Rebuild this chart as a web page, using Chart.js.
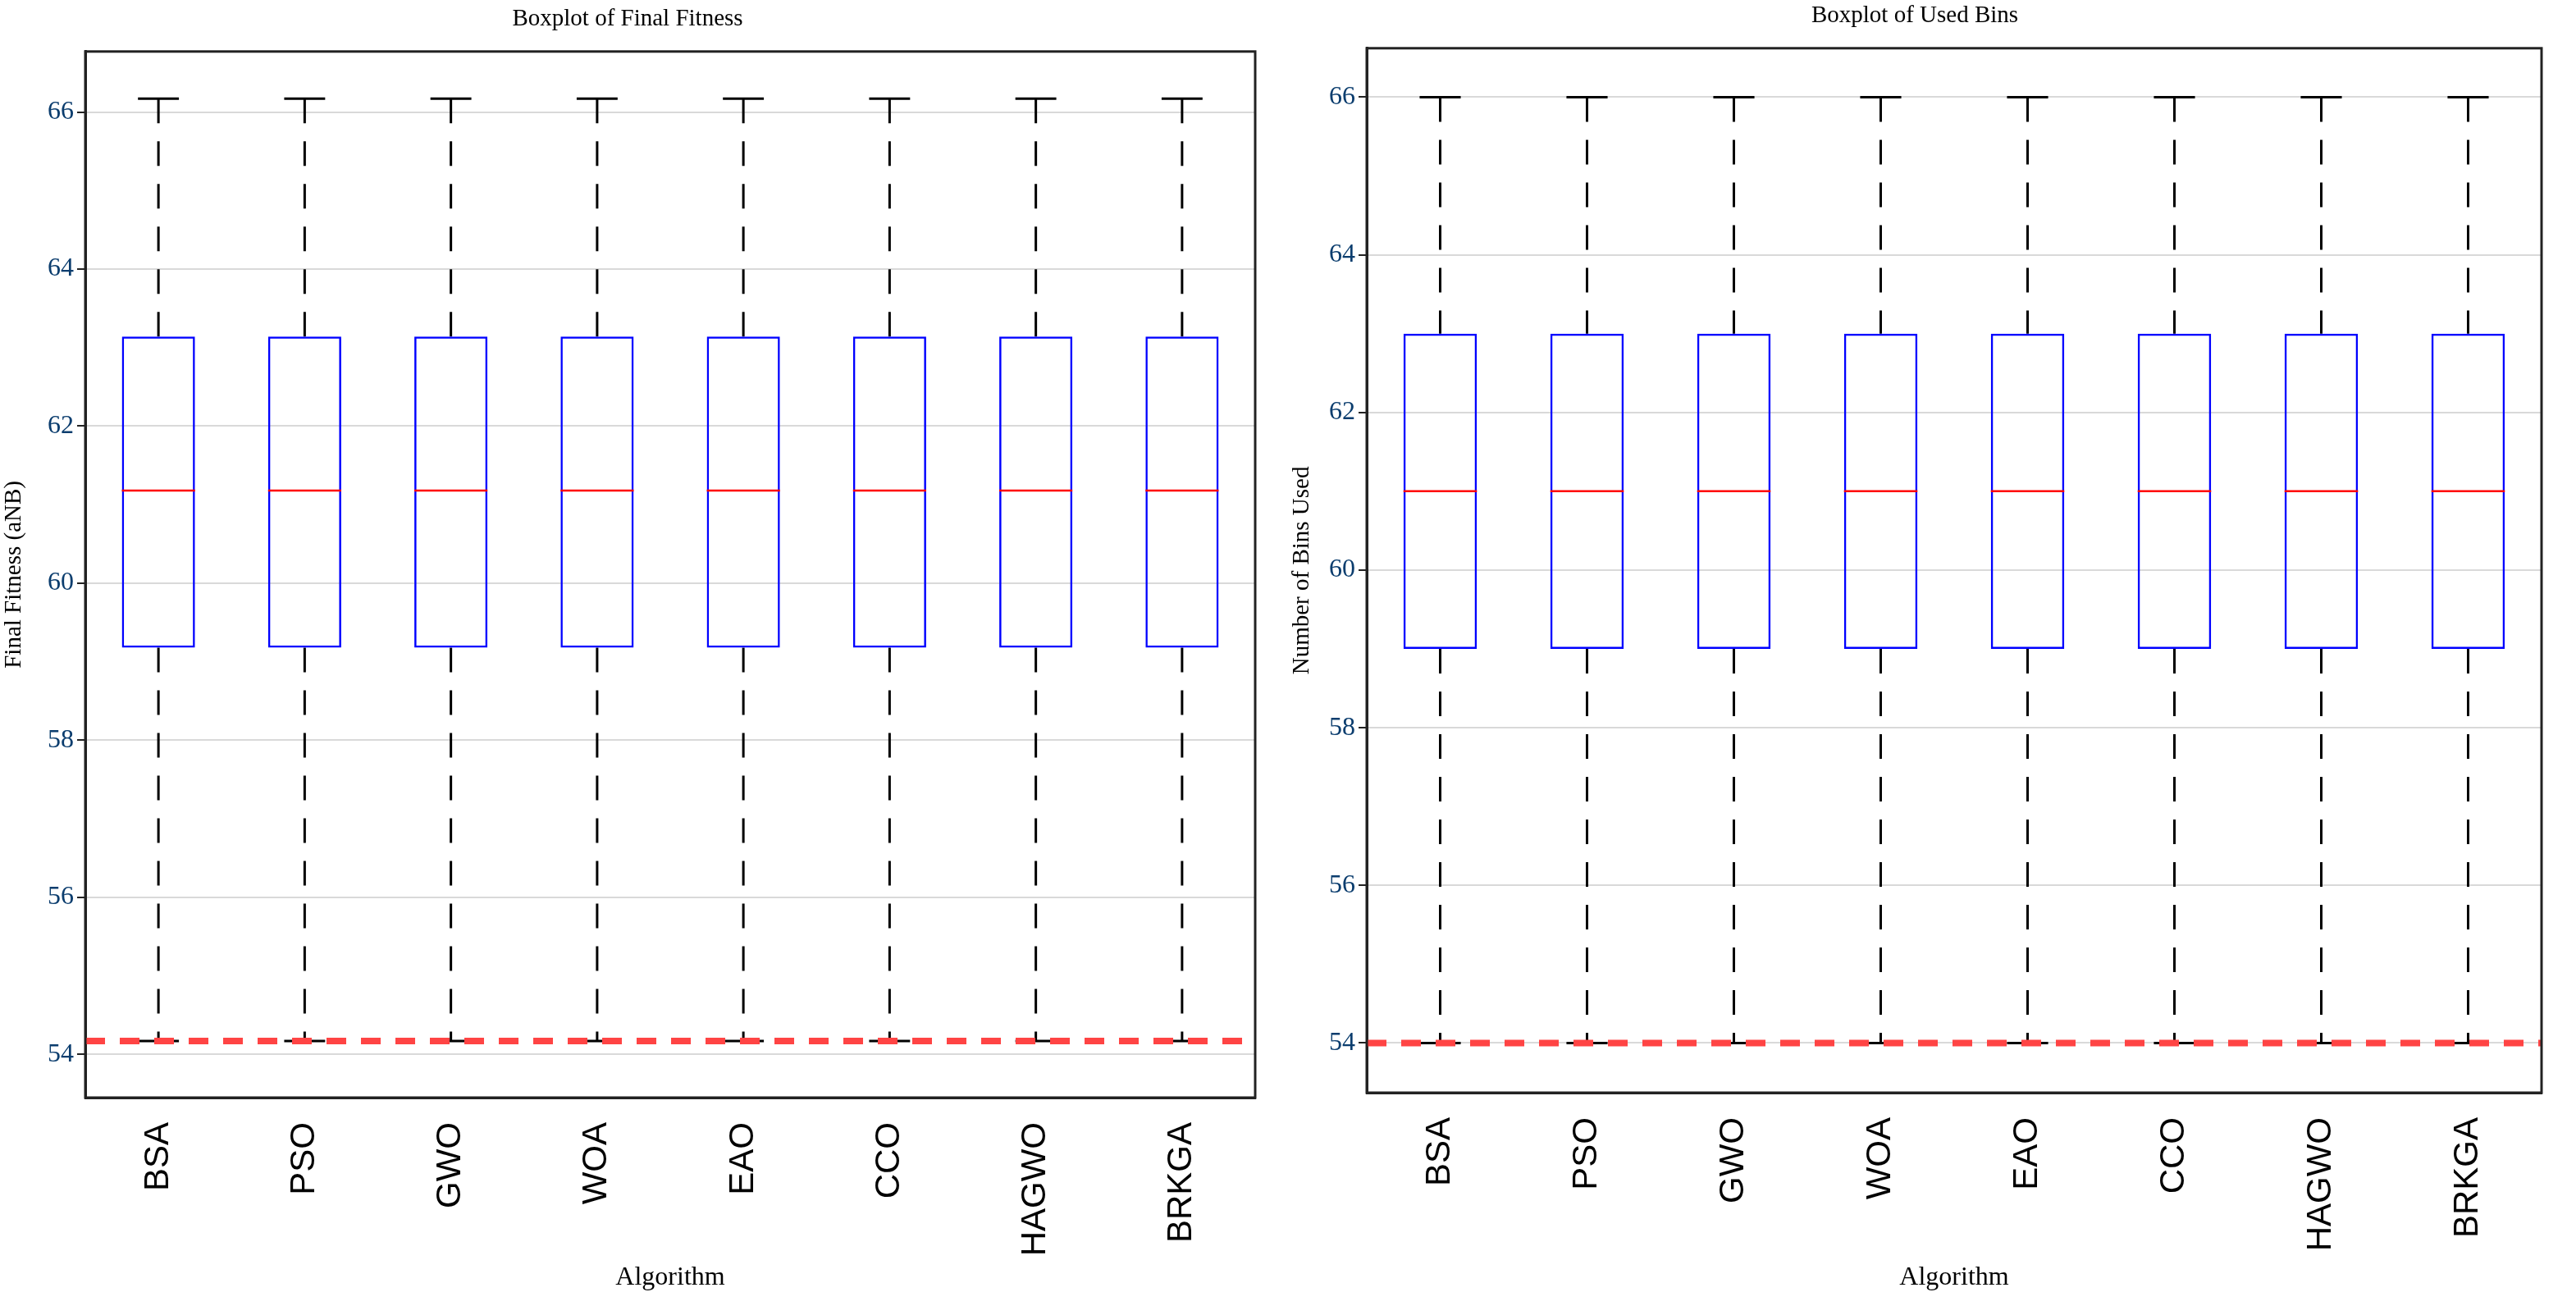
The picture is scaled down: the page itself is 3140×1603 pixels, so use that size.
<!DOCTYPE html>
<html>
<head>
<meta charset="utf-8">
<script src="https://cdn.jsdelivr.net/npm/chart.js@4"></script>
<style>
  body { margin: 0; background: #fff; }
  .pane { position: absolute; top: 0; width: 1570px; height: 1603px; }
</style>
</head>
<body>
<div class="pane" style="left:0"><canvas id="fitnessChart"></canvas></div>
<div class="pane" style="left:1570px"><canvas id="binsChart"></canvas></div>
<script>
// data
const algorithms = ['BSA', 'PSO', 'GWO', 'WOA', 'EAO', 'CCO', 'HAGWO', 'BRKGA'];

const fitnessMin = [54.17, 54.17, 54.17, 54.17, 54.17, 54.17, 54.17, 54.17];
const fitnessQ1 = [59.18, 59.18, 59.18, 59.18, 59.18, 59.18, 59.18, 59.18];
const fitnessMedian = [61.18, 61.18, 61.18, 61.18, 61.18, 61.18, 61.18, 61.18];
const fitnessQ3 = [63.14, 63.14, 63.14, 63.14, 63.14, 63.14, 63.14, 63.14];
const fitnessMax = [66.17, 66.17, 66.17, 66.17, 66.17, 66.17, 66.17, 66.17];
const fitnessBound = 54.17;
const fitnessTicks = [54, 56, 58, 60, 62, 64, 66];

const binsMin = [54, 54, 54, 54, 54, 54, 54, 54];
const binsQ1 = [59, 59, 59, 59, 59, 59, 59, 59];
const binsMedian = [61, 61, 61, 61, 61, 61, 61, 61];
const binsQ3 = [63, 63, 63, 63, 63, 63, 63, 63];
const binsMax = [66, 66, 66, 66, 66, 66, 66, 66];
const binsBound = 54;
const binsTicks = [54, 56, 58, 60, 62, 64, 66];

const serif = "'Liberation Serif', 'DejaVu Serif', serif";

// whiskers, medians and the lower-bound line drawn through the chart's scales
const boxExtras = {
    id: 'boxExtras',
    beforeDatasetsDraw(chart, args, opts) {
        const { ctx, scales: { x, y } } = chart;
        const catW = x.width / algorithms.length;
        ctx.save();
        ctx.strokeStyle = '#000';
        ctx.lineWidth = 3;
        algorithms.forEach((a, i) => {
            const cx = x.getPixelForValue(i);
            ctx.setLineDash([30, 22]);
            ctx.beginPath();
            ctx.moveTo(cx, y.getPixelForValue(opts.max[i]));
            ctx.lineTo(cx, y.getPixelForValue(opts.q3[i]));
            ctx.moveTo(cx, y.getPixelForValue(opts.q1[i]));
            ctx.lineTo(cx, y.getPixelForValue(opts.min[i]));
            ctx.stroke();
            ctx.setLineDash([]);
            ctx.beginPath();
            const cap = catW * 0.14;
            ctx.moveTo(cx - cap, y.getPixelForValue(opts.max[i]));
            ctx.lineTo(cx + cap, y.getPixelForValue(opts.max[i]));
            ctx.moveTo(cx - cap, y.getPixelForValue(opts.min[i]));
            ctx.lineTo(cx + cap, y.getPixelForValue(opts.min[i]));
            ctx.stroke();
        });
        ctx.restore();
    },
    afterDatasetsDraw(chart, args, opts) {
        const { ctx, chartArea, scales: { x, y } } = chart;
        const catW = x.width / algorithms.length;
        ctx.save();
        ctx.strokeStyle = '#ff0000';
        ctx.lineWidth = 2.5;
        algorithms.forEach((a, i) => {
            const cx = x.getPixelForValue(i);
            const py = y.getPixelForValue(opts.median[i]);
            ctx.beginPath();
            ctx.moveTo(cx - catW * 0.25, py);
            ctx.lineTo(cx + catW * 0.25, py);
            ctx.stroke();
        });
        const by = y.getPixelForValue(opts.bound);
        ctx.strokeStyle = '#ff4444';
        ctx.lineWidth = 8;
        ctx.setLineDash([24, 18]);
        ctx.beginPath();
        ctx.moveTo(chartArea.left, by);
        ctx.lineTo(chartArea.right, by);
        ctx.stroke();
        ctx.restore();
    }
};

function renderBoxplot(canvasID, cfg) {
    const el = document.getElementById(canvasID);
    el.width = 1570;
    el.height = 1603;
    new Chart(el.getContext('2d'), {
        type: 'bar',
        data: {
            labels: algorithms,
            datasets: [{
                data: cfg.q1.map((v, i) => [v, cfg.q3[i]]),
                backgroundColor: 'rgba(255,255,255,0)',
                borderColor: '#0000ff',
                borderWidth: 2.5,
                borderSkipped: false,
                categoryPercentage: 1,
                barPercentage: 0.5
            }]
        },
        options: {
            responsive: false,
            animation: false,
            layout: { padding: { left: cfg.padLeft, right: cfg.padRight, top: 0, bottom: 26 } },
            plugins: {
                legend: { display: false },
                tooltip: { enabled: false },
                title: {
                    display: true,
                    text: cfg.title,
                    color: '#000',
                    font: { family: serif, size: 29, weight: 'normal' },
                    padding: { top: cfg.titleTop, bottom: 22 }
                },
                boxExtras: cfg
            },
            scales: {
                x: {
                    grid: { display: false, drawTicks: false },
                    border: { color: '#222', width: 3 },
                    ticks: {
                        color: '#000',
                        minRotation: 90,
                        maxRotation: 90,
                        padding: 30,
                        font: { family: "'Liberation Sans', Arial, sans-serif", size: 42 }
                    },
                    title: {
                        display: true,
                        text: 'Algorithm',
                        color: '#000',
                        font: { family: serif, size: 32 },
                        padding: { top: 0, bottom: 0 }
                    },
                    afterFit(s) { s.height = cfg.xHeight; }
                },
                y: {
                    min: cfg.yMin,
                    max: cfg.yMax,
                    afterBuildTicks(s) { s.ticks = cfg.ticks.map(v => ({ value: v })); },
                    grid: { color: '#d9d9d9', lineWidth: 2, tickColor: '#222', tickLength: 10 },
                    border: { color: '#222', width: 3 },
                    ticks: {
                        color: '#0b3d6e',
                        padding: 4,
                        font: { family: serif, size: 32 }
                    },
                    title: {
                        display: true,
                        text: cfg.yTitle,
                        color: '#000',
                        font: { family: serif, size: 29 },
                        padding: { top: 0, bottom: 2 }
                    },
                    afterFit(s) { s.width = cfg.yWidth; }
                }
            }
        },
        plugins: [boxExtras, {
            id: 'frame',
            afterDraw(chart) {
                const { ctx, chartArea: a } = chart;
                ctx.save();
                ctx.strokeStyle = '#222';
                ctx.lineWidth = 3;
                ctx.strokeRect(a.left, a.top, a.right - a.left, a.bottom - a.top);
                ctx.restore();
            }
        }]
    });
}

renderBoxplot('fitnessChart', {
    title: 'Boxplot of Final Fitness', yTitle: 'Final Fitness (aNB)',
    min: fitnessMin, q1: fitnessQ1, median: fitnessMedian, q3: fitnessQ3, max: fitnessMax,
    bound: fitnessBound, ticks: fitnessTicks, yMin: 53.45, yMax: 66.77,
    padLeft: 0, padRight: 40, yWidth: 104, xHeight: 239, titleTop: 6
});
renderBoxplot('binsChart', {
    title: 'Boxplot of Used Bins', yTitle: 'Number of Bins Used',
    min: binsMin, q1: binsQ1, median: binsMedian, q3: binsQ3, max: binsMax,
    bound: binsBound, ticks: binsTicks, yMin: 53.37, yMax: 66.62,
    padLeft: 0, padRight: 42, yWidth: 96, xHeight: 245, titleTop: 2
});
</script>
</body>
</html>
